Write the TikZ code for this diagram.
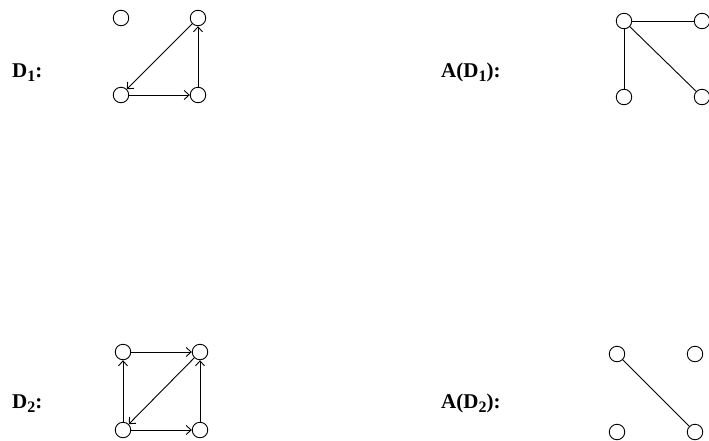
\documentclass[tikz,border=0pt]{standalone}
\usepackage{fontspec}
\setmainfont{Liberation Serif}
\usetikzlibrary{arrows.meta}
\newcommand\lsubx[1]{\raisebox{-4.5pt}{\fontsize{16}{18}\selectfont #1}}
\begin{document}
\begin{tikzpicture}[x=1pt,y=-1pt,
  vtx/.style={circle,draw,line width=0.9pt,minimum size=15.5pt,inner sep=0pt},
  edge/.style={line width=0.9pt},
  arc/.style={line width=0.9pt,-{Straight Barb[length=5pt,width=9pt,line width=0.9pt]}},
  lbl/.style={font=\fontsize{21}{24}\selectfont\bfseries,inner sep=0pt,anchor=base west}]
\useasboundingbox (0,0) rectangle (709,440);
% D1
\node[vtx] (a1) at (121,18) {};
\node[vtx] (a2) at (198,18) {};
\node[vtx] (a3) at (121,95) {};
\node[vtx] (a4) at (198,95) {};
\draw[arc] (a3) -- (a4);
\draw[arc] (a4) -- (a2);
\draw[arc] (a2) -- (a3);
\node[lbl] (l1) at (12,77) {D\lsubx{1}:};
% A(D1)
\node[vtx] (c1) at (624,21) {};
\node[vtx] (c2) at (702,21) {};
\node[vtx] (c3) at (624,97) {};
\node[vtx] (c4) at (702,97) {};
\draw[edge] (c1) -- (c2);
\draw[edge] (c1) -- (c3);
\draw[edge] (c1) -- (c4);
\node[lbl] (l2) at (441,77) {A(D\lsubx{1}):};
% D2
\node[vtx] (b1) at (123,352) {};
\node[vtx] (b2) at (200,352) {};
\node[vtx] (b3) at (123,430) {};
\node[vtx] (b4) at (200,430) {};
\draw[arc] (b1) -- (b2);
\draw[arc] (b3) -- (b1);
\draw[arc] (b2) -- (b3);
\draw[arc] (b3) -- (b4);
\draw[arc] (b4) -- (b2);
\node[lbl] (l3) at (12,408) {D\lsubx{2}:};
% A(D2)
\node[vtx] (d1) at (617,354) {};
\node[vtx] (d2) at (695,354) {};
\node[vtx] (d3) at (617,432) {};
\node[vtx] (d4) at (695,432) {};
\draw[edge] (d1) -- (d4);
\node[lbl] (l4) at (441,408) {A(D\lsubx{2}):};
\end{tikzpicture}
\end{document}
